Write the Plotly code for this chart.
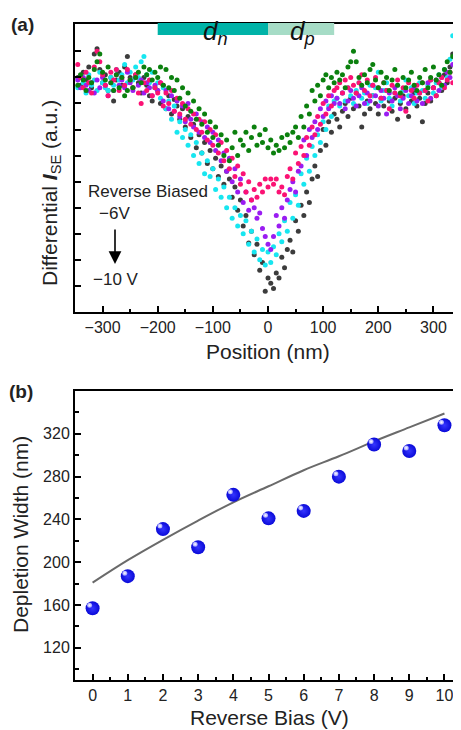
import plotly.graph_objects as go

# ---------------- Panel (a) data ----------------
position_nm = list(range(-345, 350, 5))  # 139 positions

gray_m10V = [
    8.0, 7.7, 8.2, 7.9, 8.4, 7.6, 8.9, 9.1, 8.3, 7.8, 8.1, 7.5, 8.0, 7.1, 7.9, 8.2, 7.7, 8.4, 8.8, 8.0,
    7.6, 8.1, 7.8, 7.4, 8.0, 7.7, 7.3, 7.1, 7.6,
    7.5, 7.0, 7.7, 6.8, 7.3, 6.6, 7.15, 6.9, 6.4, 6.8, 6.1, 6.5, 5.7, 6.2, 5.3, 5.8, 5.1, 5.5, 4.7, 5.2,
    4.5, 4.9, 4.2, 4.6, 3.9, 4.4, 4.1, 3.4, 3.8, 2.9, 3.3, 2.3, 2.7, 1.65, 2.1, 1.2, 1.6, 0.6, 0.9, -0.2,
    0.3, 0.1, -0.1, 0.5, 0.3, 1.1, 0.7, 1.4, 1.75, 1.3, 2.5, 2.1, 3.1, 2.7, 3.6, 3.2, 4.1, 4.6, 4.2, 5.2,
    6.0, 5.4, 6.3, 5.9, 6.6,
    6.4, 6.1, 6.7, 7.0, 6.5, 7.2, 6.8, 7.4, 6.9, 6.1, 6.6, 7.1, 6.8, 7.3, 7.0, 6.6, 7.2, 6.9, 7.5, 7.1,
    6.7, 7.2, 6.4, 7.0, 7.3, 6.8, 6.5, 7.1, 7.4, 6.9, 7.2, 6.3, 7.0, 7.4, 7.1, 7.6, 7.3, 7.8, 7.5, 8.1,
    7.8, 8.4, 8.9, 8.2, 8.6]

cyan_series = [
    7.6, 8.0, 7.8, 7.4, 8.1, 7.7, 7.9, 7.5, 8.2, 7.8, 7.6, 7.5, 8.0, 7.7, 8.3, 7.9, 8.1, 8.5, 7.8, 8.2,
    7.9, 8.4, 8.0, 8.6, 8.8, 8.1, 7.8, 8.2, 7.6,
    7.8, 7.2, 7.6, 6.8, 7.1, 6.4, 6.9, 5.9, 6.3, 5.7, 6.0, 5.4, 5.8, 5.0, 5.5, 4.7, 5.1, 4.3, 4.8, 4.2,
    4.5, 3.7, 4.1, 3.4, 3.8, 3.0, 3.4, 2.6, 3.0, 2.3, 2.7, 2.0, 2.5, 1.6, 2.1, 1.3, 1.8, 1.0, 1.4, 0.8,
    1.3, 0.9, 1.5, 1.2, 2.0, 1.7, 2.5, 2.1, 3.2, 2.6, 3.5, 3.1, 4.3, 3.9, 4.9, 4.4, 5.35, 5.0, 5.8, 5.5,
    6.3, 6.0, 6.9, 6.5, 7.1,
    7.2, 6.9, 7.4, 7.1, 7.6, 7.3, 7.0, 7.5, 7.8, 7.2, 7.4, 7.0, 7.7, 7.3, 7.6, 8.2, 7.1, 7.5, 7.8, 7.2,
    6.9, 7.4, 7.7, 7.1, 7.5, 7.9, 7.3, 7.6, 7.0, 7.4, 7.8, 7.5, 7.2, 7.7, 7.9, 7.4, 7.8, 8.1, 7.6, 8.3,
    8.0, 8.7, 9.6, 9.3, 8.8]

purple_series = [
    7.9, 7.6, 8.0, 7.7, 7.5, 7.8, 7.4, 7.9, 7.6, 8.0, 7.7, 7.3, 7.8, 7.5, 8.1, 7.7, 7.9, 7.6, 8.2, 7.8,
    7.5, 8.0, 7.7, 7.9, 7.4, 7.8, 7.6, 7.3, 7.7,
    7.5, 7.8, 7.1, 7.5, 6.8, 7.3, 6.7, 7.1, 6.5, 6.9, 6.3, 7.0, 6.4, 6.1, 6.6, 5.9, 6.3, 5.7, 6.1, 5.5,
    5.9, 5.2, 5.6, 4.8, 5.1, 4.4, 4.9, 4.0, 4.5, 3.6, 4.1, 3.2, 3.6, 2.9, 3.3, 3.0, 2.6, 2.8, 2.2, 1.9,
    1.6, 1.4, 1.9, 2.7, 2.3, 3.0, 2.6, 3.3, 3.7, 4.0, 3.6, 4.4, 4.6, 5.6, 5.0, 6.0, 5.7, 6.3, 6.0, 6.8,
    6.5, 7.1, 6.8, 7.3, 7.0,
    7.2, 7.0, 7.4, 6.8, 7.1, 7.5, 7.2, 6.9, 7.3, 7.6, 7.0, 7.4, 7.1, 7.7, 7.3, 6.9, 7.5, 7.2, 6.6, 7.4,
    7.1, 7.6, 7.3, 6.8, 7.2, 7.5, 7.0, 7.3, 7.6, 7.1, 7.4, 7.0, 7.5, 7.8, 7.2, 7.6, 7.9, 7.5, 8.0, 7.7,
    8.2, 8.0, 8.5, 8.3, 8.7]

pink_series = [
    8.5, 8.0, 7.6, 8.2, 7.8, 7.4, 8.4, 9.0, 8.6, 8.1, 7.7, 7.3, 8.2, 7.9, 8.3, 7.5, 8.0, 7.7, 8.3, 7.9,
    7.6, 8.1, 7.4, 7.0, 7.8, 7.5, 7.9, 7.3, 7.6,
    7.4, 7.8, 6.9, 7.4, 7.0, 7.5, 6.7, 7.2, 6.6, 7.0, 6.4, 6.8, 6.2, 6.6, 6.0, 6.4, 5.9, 6.3, 5.6, 6.0,
    5.4, 5.8, 5.1, 5.5, 4.8, 5.2, 4.5, 4.9, 4.2, 4.6, 3.9, 4.3, 3.6, 4.0, 3.3, 3.7, 3.4, 3.9, 3.6, 4.1,
    3.8, 4.1, 3.9, 4.1, 3.6, 3.8, 3.5, 4.2, 4.5, 4.1, 5.1, 4.7, 5.35, 5.0, 5.7, 5.4, 6.1, 5.8, 6.5, 6.2,
    7.0, 6.6, 7.3, 6.9, 7.5,
    7.6, 7.8, 7.4, 7.9, 7.6, 8.0, 7.7, 7.4, 7.8, 8.1, 7.5, 7.9, 7.3, 7.7, 8.0, 7.6, 7.2, 7.8, 7.5, 6.8,
    7.7, 7.4, 7.9, 7.3, 7.6, 6.7, 7.8, 7.5, 7.2, 7.7, 7.4, 7.8, 7.5, 7.1, 7.9, 7.6, 7.3, 7.8, 8.0, 7.6,
    7.9, 8.2, 7.8, 8.0, 8.2]

green_m6V = [
    7.7, 8.1, 7.9, 7.5, 8.0, 7.8, 8.3, 8.6, 8.9, 8.2, 7.9, 8.4, 7.8, 7.5, 8.1, 7.6, 8.0, 7.3, 7.5, 7.9,
    7.6, 8.0, 8.2, 7.8, 8.4, 8.1, 8.3, 7.9, 8.2,
    8.0, 8.4, 7.7, 8.3, 7.6, 8.0, 7.5, 7.9, 7.2, 7.6, 6.9, 7.4, 6.7, 7.1, 6.4, 6.8, 6.2, 6.6, 5.9, 6.3,
    5.7, 6.1, 5.4, 5.8, 5.0, 5.6, 4.8, 5.3, 5.9, 5.0, 5.6, 5.4, 5.9, 5.2, 5.7, 6.1, 5.4, 5.8, 5.5, 6.0,
    5.3, 5.6, 5.1, 5.4, 5.2, 5.7, 5.3, 5.8, 5.5, 5.9, 6.1, 5.7, 6.5, 6.1, 6.9, 6.6, 7.5, 7.1, 7.7, 7.3,
    7.9, 8.1, 7.6, 8.0, 7.8,
    8.2, 7.9, 8.1, 7.6, 8.4, 8.6, 9.0, 8.6, 8.0, 7.7, 8.1, 7.8, 8.3, 8.5, 7.9, 7.6, 8.2, 7.8, 8.0, 7.5,
    7.9, 8.3, 7.7, 7.4, 8.0, 7.6, 7.9, 8.2, 7.7, 7.5, 8.0, 7.8, 8.3, 7.6, 8.0, 8.4, 7.9, 8.1, 7.7, 8.3,
    8.6, 8.2, 8.8, 8.5, 8.3]

series_a = [
    ("-10 V", gray_m10V, "#3c3c3c"),
    ("cyan", cyan_series, "#17e6f0"),
    ("purple", purple_series, "#9a1cf2"),
    ("pink", pink_series, "#fb1274"),
    ("-6 V", green_m6V, "#0b800e"),
]

# regions of the depletion layer (nm)
dn_range = [-200, 0]
dp_range = [0, 120]

# ---------------- Panel (b) data ----------------
reverse_bias = [0, 1, 2, 3, 4, 5, 6, 7, 8, 9, 10]
depletion_width = [157, 187, 231, 214, 263, 241, 248, 280, 310, 304, 328]
fit_width = [181, 202, 221, 239, 256, 271, 286, 299, 313, 326, 339]

# page body has an 8px margin; the figure is shrunk so the page matches 461x730
OFF = 8
W, H = 461 - OFF, 730 - OFF
FONT = "Liberation Sans, Arial, sans-serif"


def px(x):
    return (x - OFF) / W


def py(y):
    return 1 - (y - OFF) / H


fig = go.Figure()

for name, ys, col in series_a:
    fig.add_trace(go.Scatter(
        x=position_nm, y=ys, mode="markers", name=name,
        marker=dict(size=5, color=col, line=dict(width=0)),
        xaxis="x", yaxis="y", showlegend=False, cliponaxis=True))

fig.add_trace(go.Scatter(
    x=reverse_bias, y=fit_width, mode="lines", line=dict(color="#6a6a6a", width=2, shape="spline"),
    xaxis="x2", yaxis="y2", showlegend=False))
fig.add_trace(go.Scatter(
    x=reverse_bias, y=depletion_width, mode="markers",
    marker=dict(size=14, color="#0a0ad8", gradient=dict(type="radial", color="#3535ff"),
                line=dict(width=0)),
    xaxis="x2", yaxis="y2", showlegend=False, cliponaxis=False))
fig.add_trace(go.Scatter(
    x=reverse_bias, y=depletion_width, mode="markers",
    marker=dict(size=5, color="#9a9aff", gradient=dict(type="radial", color="#ffffff"),
                line=dict(width=0)),
    xaxis="x3", yaxis="y3", showlegend=False, cliponaxis=False))

axis_common = dict(showline=True, linecolor="black", linewidth=2, ticks="inside",
                   tickcolor="black", tickwidth=1.5, ticklen=6, showgrid=False, zeroline=False,
                   tickfont=dict(family=FONT, size=16, color="#222"))

xdom = [px(75), 1.0]
ydom_a = [py(312), py(24)]
ydom_b = [py(680), py(391)]

x2range = [-0.5, 10.47]
y2range = [90, 360]
sx = 3 / 35.16
sy = 3 / 1.07

fig.update_layout(
    width=W, height=H, margin=dict(l=0, r=0, t=0, b=0),
    paper_bgcolor="white", plot_bgcolor="white",
    xaxis=dict(domain=xdom, range=[-350, 350], anchor="y", mirror=True, dtick=100, tick0=0,
               minor=dict(dtick=50, ticks="inside", ticklen=3.5, tickcolor="black", tickwidth=1.5),
               **axis_common),
    yaxis=dict(domain=ydom_a, range=[-1, 10.05], anchor="x", tickvals=list(range(0, 10)),
               showticklabels=False, **axis_common),
    xaxis2=dict(domain=xdom, range=x2range, anchor="y2", mirror=True, dtick=1, tick0=0,
                minor=dict(dtick=0.5, ticks="inside", ticklen=3.5, tickcolor="black", tickwidth=1.5),
                **axis_common),
    yaxis2=dict(domain=ydom_b, range=y2range, anchor="x2", tickvals=[120, 160, 200, 240, 280, 320],
                minor=dict(dtick=20, ticks="inside", ticklen=3.5, tickcolor="black", tickwidth=1.5),
                **axis_common),
    xaxis3=dict(domain=xdom, range=[x2range[0] + sx, x2range[1] + sx], overlaying="x2",
                anchor="y3", visible=False),
    yaxis3=dict(domain=ydom_b, range=[y2range[0] - sy, y2range[1] - sy], overlaying="y2",
                anchor="x3", visible=False),
)

# depletion region bars
fig.add_shape(type="rect", xref="x", yref="paper", x0=dn_range[0], x1=dn_range[1],
              y0=py(35), y1=py(23), fillcolor="#00b3a8", line=dict(width=0), layer="above")
fig.add_shape(type="rect", xref="x", yref="paper", x0=dp_range[0], x1=dp_range[1],
              y0=py(35), y1=py(23), fillcolor="#a6dcc6", line=dict(width=0), layer="above")


def label(text, x, y, size, angle=0, xref="paper", color="#222"):
    return dict(text=text, x=x, y=py(y), xref=xref, yref="paper", xanchor="center",
                yanchor="middle", textangle=angle, showarrow=False,
                font=dict(family=FONT, size=size, color=color))


ann = [
    label("<i>d</i><sub><i>n</i></sub>", -95, 32, 26, xref="x", color="#111"),
    label("<i>d</i><sub><i>p</i></sub>", 62, 32, 26, xref="x", color="#111"),
    label("Reverse Biased", px(148), 191, 17),
    label("\u22126V", px(114), 214, 17),
    label("\u221210 V", px(116), 280, 17),
    label("Position (nm)", px(268), 351, 21),
    label("Reverse Bias (V)", px(269), 717, 21),
    label("Differential <b><i>I</i></b><sub>SE</sub> (a.u.)", px(51), 193, 21, angle=-90),
    label("Depletion Width (nm)", px(20), 535, 21, angle=-90),
    label("<b>(a)</b>", px(22), 25, 19),
    label("<b>(b)</b>", px(21), 391, 19),
    dict(text="", x=px(115), y=py(264), ax=0, ay=-36, xref="paper", yref="paper",
         axref="pixel", ayref="pixel", showarrow=True, arrowhead=2, arrowsize=1.6,
         arrowwidth=1.6, arrowcolor="black"),
]

fig.update_layout(annotations=ann)

fig.write_html("out.html")
